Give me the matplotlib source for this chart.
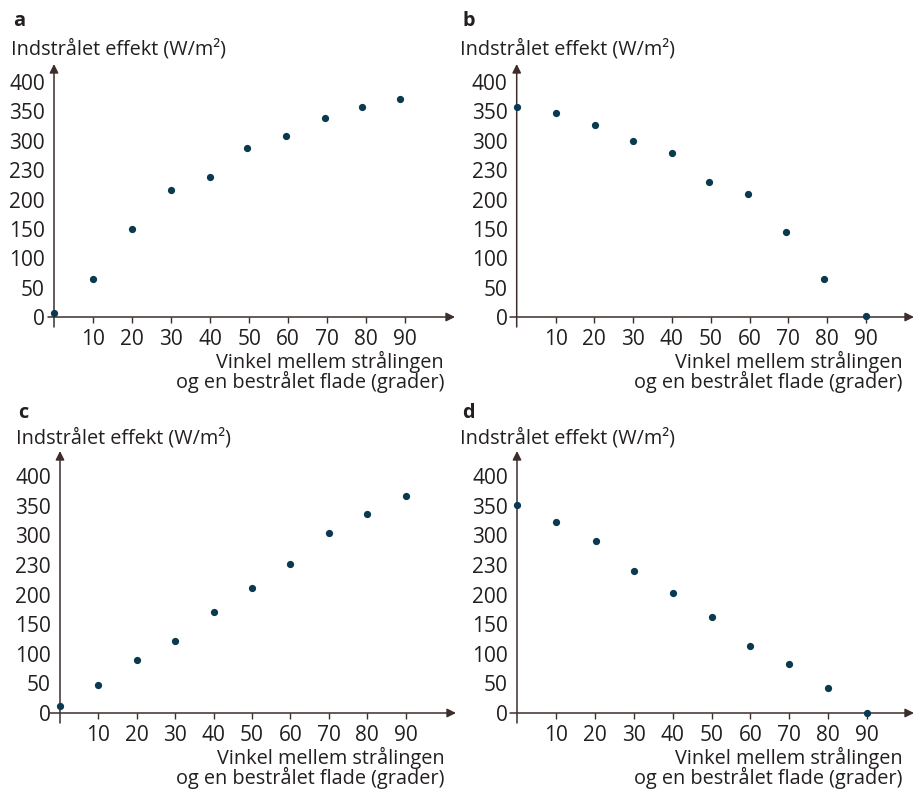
import numpy as np
import matplotlib.pyplot as plt

plt.rcParams['font.family'] = ['Open Sans', 'DejaVu Sans']

# data
x_a = [0, 10, 20, 30, 40, 49.5, 59.3, 69.3, 78.8, 88.5]
y_a = [6, 65, 149, 216, 239, 288, 308, 339, 358, 371]

x_b = [0, 10, 20.2, 30, 40, 49.5, 59.5, 69.5, 79.3, 90]
y_b = [358, 347, 327, 299, 279, 230, 209, 144, 64, 2]

x_c = [0, 10, 20, 30, 40, 50, 60, 70, 80, 90]
y_c = [11, 47, 90, 121, 171, 212, 252, 305, 336, 367]

x_d = [0, 10, 20.2, 30, 40, 50, 60, 70, 80, 90]
y_d = [352, 322, 291, 240, 203, 162, 113, 83, 42, 0]

xticks = [10, 20, 30, 40, 50, 60, 70, 80, 90]
yticks = [0, 50, 100, 150, 200, 250, 300, 350, 400]
ylabels = ['0', '50', '100', '150', '200', '230', '300', '350', '400']

ylab = 'Indstrålet effekt (W/m²)'
xlab1 = 'Vinkel mellem strålingen'
xlab2 = 'og en bestrålet flade (grader)'

W, H = 915, 791
txt = '#231f20'
axcol = '#3d2e2b'
dot = '#0b3a50'
fs = 14.3
fs_tick = 15

fig = plt.figure(figsize=(W/100, H/100), dpi=100)


def panel(xs, ys, ox, oy, px_x, px_y, left, right, top, bottom, letter, lx, ly, yly):
    # ox, oy origin in pixels (from top), px_* = pixels per data unit
    ax = fig.add_axes([left/W, 1 - bottom/H, (right - left)/W, (bottom - top)/H])
    x0 = (left - ox)/px_x
    x1 = (right - ox)/px_x
    y0 = -(bottom - oy)/px_y
    y1 = (oy - top)/px_y
    ax.set_xlim(x0, x1)
    ax.set_ylim(y0, y1)
    ax.spines['left'].set_position(('data', 0))
    ax.spines['bottom'].set_position(('data', 0))
    for s in ax.spines.values():
        s.set_visible(False)
    ax.patch.set_alpha(0)
    ap = dict(arrowstyle='-|>', color=axcol, lw=1.1, mutation_scale=13,
              shrinkA=0, shrinkB=0)
    ax.annotate('', xy=(x1, 0), xytext=(x0, 0), arrowprops=ap, annotation_clip=False)
    ax.annotate('', xy=(0, y1), xytext=(0, y0), arrowprops=ap, annotation_clip=False)
    ax.plot(xs, ys, 'o', color=dot, ms=4.2, clip_on=False, zorder=5)
    ax.set_xticks(xticks)
    ax.set_xticklabels([str(t) for t in xticks])
    ax.set_yticks(yticks)
    ax.set_yticklabels(ylabels)
    ax.tick_params(axis='x', length=4, width=1, color=axcol, direction='out',
                   pad=4.5, labelsize=fs_tick, labelcolor=txt)
    ax.tick_params(axis='y', length=0, pad=6.5, labelsize=fs_tick, labelcolor=txt)
    fig.text(lx/W, 1 - ly/H, letter, fontsize=fs, fontweight='bold', color=txt,
             va='center', ha='left')
    fig.text((lx - 2)/W, 1 - yly/H, ylab, fontsize=fs, color=txt,
             va='center', ha='left')
    fig.text((right - 11)/W, 1 - (oy + 45)/H, xlab1, fontsize=fs, color=txt,
             va='center', ha='right')
    fig.text((right - 11)/W, 1 - (oy + 65)/H, xlab2, fontsize=fs, color=txt,
             va='center', ha='right')
    return ax


panel(x_a, y_a, 54, 317, 3.904, 0.5875, 48, 455, 64, 327, 'a', 13, 21, 49)
panel(x_b, y_b, 516.7, 317, 3.88, 0.5875, 510, 914, 64, 327, 'b', 462, 21, 49)
panel(x_c, y_c, 60, 713, 3.84, 0.5917, 50, 456, 451, 723, 'c', 18, 413, 438)
panel(x_d, y_d, 517, 713, 3.89, 0.5917, 510, 914, 451, 723, 'd', 462, 413, 438)

fig.savefig('out.png', dpi=100)
